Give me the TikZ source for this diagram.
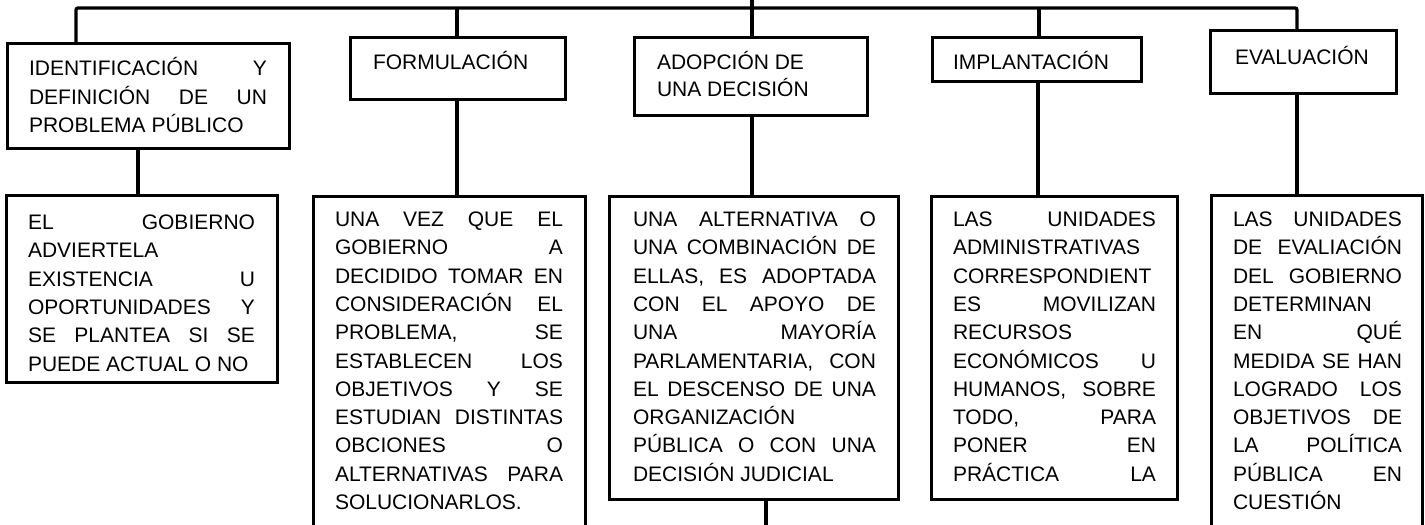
\documentclass[tikz,border=0pt]{standalone}
\usepackage{fontspec}
\setmainfont{Liberation Sans}
\newcommand\JL[1]{\hbox to\hsize{#1}}
\newcommand\LL[1]{\hbox to\hsize{#1\hfil}}
\newcommand\TB[3]{\vtop{\hsize=#1\relax\baselineskip=#2\relax\parindent=0pt #3}}
\hbadness=10000 \hfuzz=3pt
\begin{document}
\begin{tikzpicture}[x=1pt,y=-1pt,
  box/.style={draw, line width=3pt, rectangle, inner sep=0pt, outer sep=0pt, anchor=north west},
  txt/.style={anchor=base west, inner sep=0pt, outer sep=0pt, font=\fontsize{21}{28.3}\selectfont},
  link/.style={line width=3.3pt}]
\useasboundingbox (0,0) rectangle (1425,525);
\clip (0,0) rectangle (1425,525);

% top row boxes
\node[box, minimum width=282pt, minimum height=105pt] (B1) at (7,43) {};
\node[box, minimum width=215pt, minimum height=62pt] (B2) at (350,37) {};
\node[box, minimum width=233pt, minimum height=78pt] (B3) at (634,37) {};
\node[box, minimum width=209pt, minimum height=44pt] (B4) at (932,37) {};
\node[box, minimum width=186pt, minimum height=63pt] (B5) at (1210,30) {};
% bottom row boxes
\node[box, minimum width=271pt, minimum height=187pt] (C1) at (6,195) {};
\node[box, minimum width=272pt, minimum height=360pt] (C2) at (313,196) {};
\node[box, minimum width=289pt, minimum height=303pt] (C3) at (609,196) {};
\node[box, minimum width=246pt, minimum height=303pt] (C4) at (931,196) {};
\node[box, minimum width=211pt, minimum height=360pt] (C5) at (1211,195) {};

% texts
\node[txt] (T1) at (29,75.5) {\TB{238pt}{28.5pt}{\JL{IDENTIFICACIÓN Y}\JL{DEFINICIÓN DE UN}\LL{PROBLEMA PÚBLICO}}};
\node[txt] (T2) at (373,69.5) {FORMULACIÓN};
\node[txt] (T3) at (657,69.5) {\TB{200pt}{27pt}{\LL{ADOPCIÓN DE}\LL{UNA DECISIÓN}}};
\node[txt] (T4) at (953,69.5) {IMPLANTACIÓN};
\node[txt] (T5) at (1235,64.5) {EVALUACIÓN};

\node[txt] (U1) at (28,229.5) {\TB{227pt}{28.3pt}{%
\JL{EL GOBIERNO}\LL{ADVIERTELA}\JL{EXISTENCIA U}\JL{OPORTUNIDADES Y}%
\JL{SE PLANTEA SI SE}\LL{PUEDE ACTUAL O NO}}};
\node[txt] (U2) at (335,226.5) {\TB{228pt}{28.3pt}{%
\JL{UNA VEZ QUE EL}\JL{GOBIERNO A}\JL{DECIDIDO TOMAR EN}\JL{CONSIDERACIÓN EL}%
\JL{PROBLEMA, SE}\JL{ESTABLECEN LOS}\JL{OBJETIVOS Y SE}\JL{ESTUDIAN DISTINTAS}%
\JL{OBCIONES O}\JL{ALTERNATIVAS PARA}\LL{SOLUCIONARLOS.}}};
\node[txt] (U3) at (633,226.5) {\TB{243pt}{28.3pt}{%
\JL{UNA ALTERNATIVA O}\JL{UNA COMBINACIÓN DE}\JL{ELLAS, ES ADOPTADA}\JL{CON EL APOYO DE}%
\JL{UNA MAYORÍA}\JL{PARLAMENTARIA, CON}\JL{EL DESCENSO DE UNA}\LL{ORGANIZACIÓN}%
\JL{PÚBLICA O CON UNA}\LL{DECISIÓN JUDICIAL}}};
\node[txt] (U4) at (953,226.5) {\TB{203pt}{28.3pt}{%
\JL{LAS UNIDADES}\LL{ADMINISTRATIVAS}\LL{CORRESPONDIENT}\JL{ES MOVILIZAN}%
\LL{RECURSOS}\JL{ECONÓMICOS U}\JL{HUMANOS, SOBRE}\JL{TODO, PARA}%
\JL{PONER EN}\JL{PRÁCTICA LA}}};
\node[txt] (U5) at (1233,226.5) {\TB{169pt}{28.3pt}{%
\JL{LAS UNIDADES}\JL{DE EVALIACIÓN}\JL{DEL GOBIERNO}\LL{DETERMINAN}%
\JL{EN QUÉ}\JL{MEDIDA SE HAN}\JL{LOGRADO LOS}\JL{OBJETIVOS DE}%
\JL{LA POLÍTICA}\JL{PÚBLICA EN}\LL{CUESTIÓN}}};

% connector positions
\coordinate (bus) at (0,8);
\coordinate (k1) at (76,0);
\coordinate (k2) at (457,0);
\coordinate (k3) at (752,0);
\coordinate (k4) at (1039,0);
\coordinate (k5) at (1297,0);
\coordinate (m1) at (138,0);
\coordinate (m3) at (766,0);
\coordinate (m4) at (1038,0);
\coordinate (end3) at (766,530);

\draw[link, rounded corners=2pt] (k1 |- B1.north) |- (bus -| k5) -- (k5 |- B5.north);
\draw[link] (k2 |- bus) -- (k2 |- B2.north);
\draw[link] (k3) -- (k3 |- B3.north);
\draw[link] (k4 |- bus) -- (k4 |- B4.north);
\draw[link] (m1 |- B1.south) -- (m1 |- C1.north);
\draw[link] (k2 |- B2.south) -- (k2 |- C2.north);
\draw[link] (k3 |- B3.south) -- (k3 |- C3.north);
\draw[link] (m4 |- B4.south) -- (m4 |- C4.north);
\draw[link] (k5 |- B5.south) -- (k5 |- C5.north);
\draw[link] (m3 |- C3.south) -- (end3);
\end{tikzpicture}
\end{document}
